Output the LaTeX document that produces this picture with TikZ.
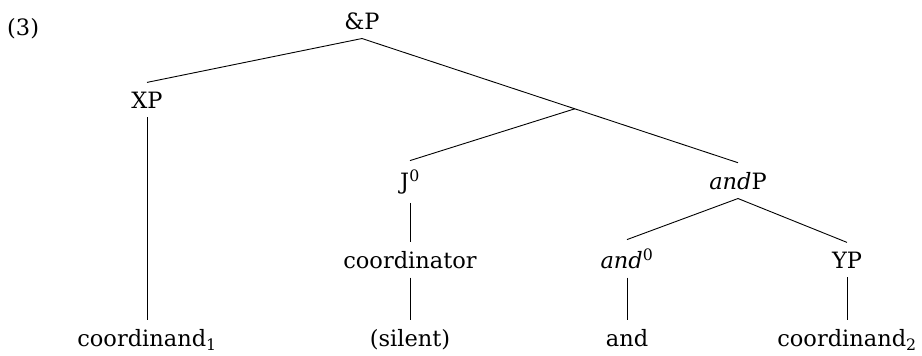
\documentclass[tikz,border=0pt]{standalone}
\usepackage{fontspec}
\setmainfont{DejaVu Serif}
\begin{document}
\begin{tikzpicture}[x=1pt,y=-1pt,
  tnode/.style={font=\fontsize{22.5}{27}\selectfont, inner xsep=0pt, inner ysep=9pt, anchor=base},
  branch/.style={line width=0.9pt, black}]
\useasboundingbox (0,0) rectangle (922,356);
% example number
\node[tnode, anchor=base west] (num) at (7,35) {(3)};
% tree nodes
\node[tnode] (amp) at (362,29) {\&P};
\node[tnode] (xp) at (147,108) {XP};
\node[tnode] (j0) at (410,189) {J\textsuperscript{0}};
\node[tnode] (andp) at (738,189) {\textit{and}P};
\node[tnode] (coord) at (410,268) {coordinator};
\node[tnode] (and0) at (627,268) {\textit{and}\textsuperscript{0}};
\node[tnode] (yp) at (847,268) {YP};
\node[tnode] (c1) at (147,346) {coordinand\textsubscript{1}};
\node[tnode] (sil) at (410,346) {(silent)};
\node[tnode] (and) at (627,346) {and};
\node[tnode] (c2) at (847,346) {coordinand\textsubscript{2}};
% branches
\draw[branch] (amp.south) -- (xp.north);
\draw[branch] (amp.south) -- coordinate[pos=0.566] (m) (andp.north);
\draw[branch] (m) -- (j0.north);
\draw[branch] (xp.south) -- (c1.north);
\draw[branch] (j0.south) -- (coord.north);
\draw[branch] (coord.south) -- (sil.north);
\draw[branch] (andp.south) -- (and0.north);
\draw[branch] (andp.south) -- (yp.north);
\draw[branch] (and0.south) -- (and.north);
\draw[branch] (yp.south) -- (c2.north);
\end{tikzpicture}
\end{document}
